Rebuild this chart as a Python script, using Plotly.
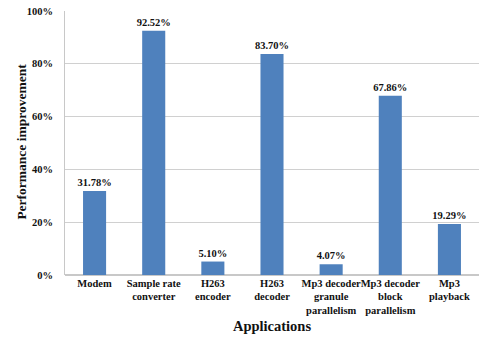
import plotly.graph_objects as go

categories = [
    "Modem",
    "Sample rate<br>converter",
    "H263<br>encoder",
    "H263<br>decoder",
    "Mp3 decoder<br>granule<br>parallelism",
    "Mp3 decoder<br>block<br>parallelism",
    "Mp3<br>playback",
]
improvement = [31.78, 92.52, 5.10, 83.70, 4.07, 67.86, 19.29]
y_ticks = [0, 20, 40, 60, 80, 100]
y_tick_labels = ["0%", "20%", "40%", "60%", "80%", "100%"]

SERIF = "Liberation Serif"

fig = go.Figure(
    go.Bar(
        x=categories,
        y=improvement,
        marker=dict(color="#4f81bd", line=dict(width=0)),
        texttemplate="%{y:.2f}%",
        textposition="outside",
        constraintext="none",
        textfont=dict(family=SERIF, size=10.5, color="#111", weight="bold"),
        cliponaxis=False,
    )
)

fig.update_layout(
    width=479,
    height=340,
    margin=dict(l=65, r=0, t=11, b=65),
    paper_bgcolor="white",
    plot_bgcolor="white",
    bargap=0.61,
    showlegend=False,
    font=dict(family=SERIF, color="#111"),
    annotations=[
        dict(
            text="<b>Performance improvement</b>",
            textangle=-90,
            xref="paper", yref="paper",
            x=-0.104, y=0.505,
            xanchor="center", yanchor="middle",
            showarrow=False,
            font=dict(family=SERIF, size=13.5, color="#111"),
        )
    ],
)

fig.update_xaxes(
    tickfont=dict(family=SERIF, size=10.5, weight="bold"),
    tickangle=0,
    ticks="",
    showline=False,
    automargin=False,
    title=dict(text="Applications", font=dict(family=SERIF, size=14.5, weight="bold"), standoff=6),
)

fig.update_yaxes(
    range=[0, 100],
    tickvals=y_ticks,
    ticktext=y_tick_labels,
    tickfont=dict(family=SERIF, size=10.5, weight="bold"),
    showgrid=True,
    gridcolor="#d0d0d0",
    gridwidth=1,
    showline=True,
    linecolor="#c8c8c8",
    zeroline=True,
    zerolinecolor="#c8c8c8",
    ticks="",
    ticklabelstandoff=9,
    automargin=False,
)

fig.write_html("out.html")
